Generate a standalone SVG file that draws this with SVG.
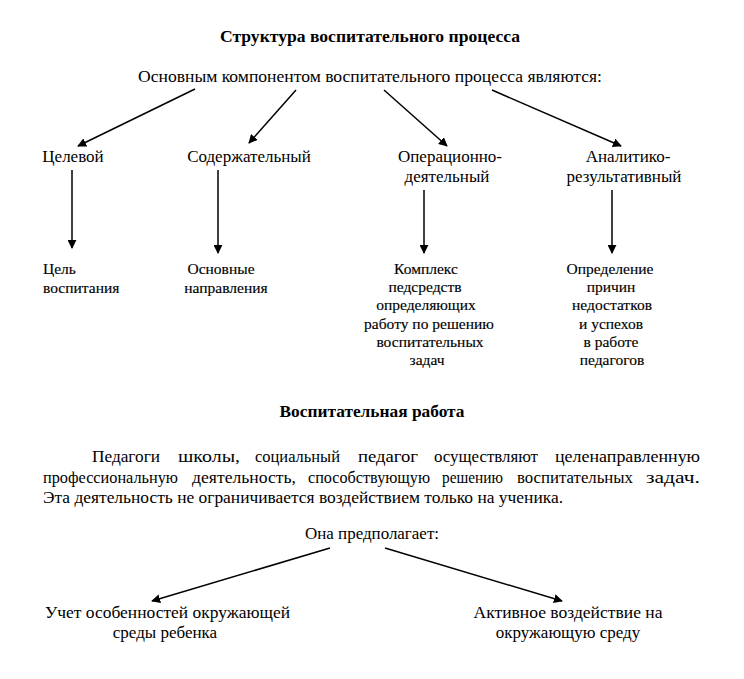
<svg xmlns="http://www.w3.org/2000/svg" width="744" height="679" viewBox="0 0 744 679">
<defs>
<marker id="ah" viewBox="0 0 10 10" refX="9" refY="5" markerWidth="9" markerHeight="9" markerUnits="userSpaceOnUse" orient="auto">
<path d="M0,0 L10,5 L0,10 z" fill="#000"/>
</marker>
</defs>
<style>
text{font-family:'Liberation Serif','Times New Roman',serif;fill:#000}
.t{font-size:16px;font-weight:bold}
.m{font-size:17px}
.l1{font-size:17px}
.l2{font-size:15.5px;stroke:#000;stroke-width:0.15}
.p{font-size:16.5px}
.c{stroke:#000;stroke-width:1.5;fill:none;marker-end:url(#ah)}
</style>
<rect width="744" height="679" fill="#fff"/>
<g id="title1"><text class="t" x="370" y="42" text-anchor="middle" textLength="300" lengthAdjust="spacingAndGlyphs">Структура воспитательного процесса</text></g>
<g id="root1"><text class="m" x="370" y="82" text-anchor="middle" textLength="464" lengthAdjust="spacingAndGlyphs">Основным компонентом воспитательного процесса являются:</text></g>
<g id="n-celevoy"><text class="l1" x="73" y="162" text-anchor="middle">Целевой</text></g>
<g id="n-soderzh"><text class="l1" x="249" y="162" text-anchor="middle">Содержательный</text></g>
<g id="n-oper"><text class="l1" x="450" y="162" text-anchor="middle">Операционно-</text><text class="l1" x="447" y="182" text-anchor="middle">деятельный</text></g>
<g id="n-anal"><text class="l1" x="628" y="162" text-anchor="middle">Аналитико-</text><text class="l1" x="624" y="182" text-anchor="middle">результативный</text></g>
<g id="d-cel"><text class="l2" x="43" y="274">Цель</text><text class="l2" x="43" y="293">воспитания</text></g>
<g id="d-osn"><text class="l2" x="221" y="274" text-anchor="middle">Основные</text><text class="l2" x="226" y="293" text-anchor="middle">направления</text></g>
<g id="d-kompl">
<text class="l2" x="426" y="274" text-anchor="middle">Комплекс</text>
<text class="l2" x="425" y="292" text-anchor="middle">педсредств</text>
<text class="l2" x="426" y="310" text-anchor="middle">определяющих</text>
<text class="l2" x="429" y="329" text-anchor="middle">работу по решению</text>
<text class="l2" x="430" y="347" text-anchor="middle">воспитательных</text>
<text class="l2" x="427" y="365" text-anchor="middle">задач</text>
</g>
<g id="d-opr">
<text class="l2" x="610" y="274" text-anchor="middle">Определение</text>
<text class="l2" x="611" y="292" text-anchor="middle">причин</text>
<text class="l2" x="612" y="310" text-anchor="middle">недостатков</text>
<text class="l2" x="611" y="329" text-anchor="middle">и успехов</text>
<text class="l2" x="611" y="347" text-anchor="middle">в работе</text>
<text class="l2" x="612" y="365" text-anchor="middle">педагогов</text>
</g>
<g id="title2"><text class="t" x="372" y="417" text-anchor="middle" textLength="185" lengthAdjust="spacingAndGlyphs">Воспитательная работа</text></g>
<g id="para">
<text class="p" x="92" y="462" textLength="68" lengthAdjust="spacingAndGlyphs">Педагоги</text>
<text class="p" x="178" y="462" textLength="62" lengthAdjust="spacingAndGlyphs">школы,</text>
<text class="p" x="255" y="462" textLength="85" lengthAdjust="spacingAndGlyphs">социальный</text>
<text class="p" x="358" y="462" textLength="60" lengthAdjust="spacingAndGlyphs">педагог</text>
<text class="p" x="434" y="462" textLength="104" lengthAdjust="spacingAndGlyphs">осуществляют</text>
<text class="p" x="555" y="462" textLength="145" lengthAdjust="spacingAndGlyphs">целенаправленную</text>
<text class="p" x="43" y="483" textLength="135" lengthAdjust="spacingAndGlyphs">профессиональную</text>
<text class="p" x="192" y="483" textLength="104" lengthAdjust="spacingAndGlyphs">деятельность,</text>
<text class="p" x="308" y="483" textLength="122" lengthAdjust="spacingAndGlyphs">способствующую</text>
<text class="p" x="442" y="483" textLength="61" lengthAdjust="spacingAndGlyphs">решению</text>
<text class="p" x="517" y="483" textLength="116" lengthAdjust="spacingAndGlyphs">воспитательных</text>
<text class="p" x="646" y="483" textLength="54" lengthAdjust="spacingAndGlyphs">задач.</text>
<text class="p" x="43" y="503" textLength="520" lengthAdjust="spacingAndGlyphs">Эта деятельность не ограничивается воздействием только на ученика.</text>
</g>
<g id="root2"><text class="m" x="372" y="539" text-anchor="middle" textLength="134" lengthAdjust="spacingAndGlyphs">Она предполагает:</text></g>
<g id="b-uchet"><text class="m" x="45" y="618" textLength="245" lengthAdjust="spacingAndGlyphs">Учет особенностей окружающей</text><text class="m" x="165" y="638" text-anchor="middle">среды ребенка</text></g>
<g id="b-aktiv"><text class="m" x="568" y="618" text-anchor="middle" textLength="189" lengthAdjust="spacingAndGlyphs">Активное воздействие на</text><text class="m" x="568" y="638" text-anchor="middle">окружающую среду</text></g>
<g id="connectors">
<line class="c" x1="195" y1="89" x2="78" y2="146"/>
<line class="c" x1="296" y1="90" x2="249" y2="143"/>
<line class="c" x1="384" y1="90" x2="447" y2="146"/>
<line class="c" x1="492" y1="90" x2="621" y2="146"/>
<line class="c" x1="72" y1="170" x2="72" y2="248"/>
<line class="c" x1="218" y1="170" x2="218" y2="253"/>
<line class="c" x1="424" y1="190" x2="424" y2="253"/>
<line class="c" x1="612" y1="190" x2="612" y2="253"/>
<line class="c" x1="330" y1="548" x2="152" y2="601"/>
<line class="c" x1="385" y1="548" x2="562" y2="601"/>
</g>
</svg>
